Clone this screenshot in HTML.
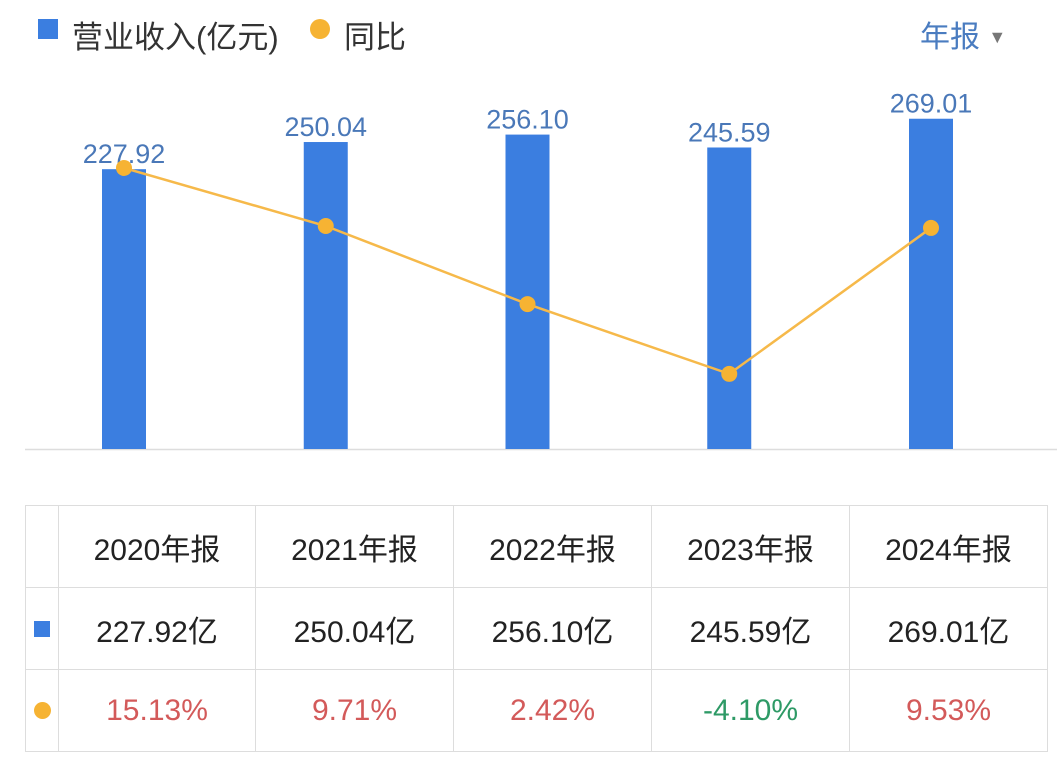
<!DOCTYPE html>
<html><head><meta charset="utf-8"><style>
body{margin:0;background:#fff;width:1057px;height:763px;overflow:hidden;font-family:"Liberation Sans","Noto Sans CJK SC",sans-serif;}
#wrap{position:relative;width:1057px;height:763px;}
.leg{position:absolute;top:12px;font-size:31px;color:#333;}
table{position:absolute;left:25px;top:505px;border-collapse:collapse;}
td{border:1px solid #ddd;text-align:center;font-size:30px;color:#222;padding:0;}
</style></head><body><div id="wrap">
<div>
<div style="position:absolute;left:38px;top:19px;width:20px;height:20px;background:#3b7ee0"></div>
<div class="leg" style="left:72px">营业收入(亿元)</div>
<div style="position:absolute;left:310px;top:19px;width:20px;height:20px;border-radius:50%;background:#f6b333"></div>
<div class="leg" style="left:344px">同比</div>
</div>
<div class="leg" style="left:920px;color:#4a7cc0;font-size:30px">年报 <span style="font-size:18px;color:#777;vertical-align:4px">▼</span></div>
<svg id="chart" width="1057" height="500" style="position:absolute;left:0;top:0"></svg>
<table>
<tr style="height:82px"><td style="width:32px"></td><td style="width:196px">2020年报</td><td style="width:197px">2021年报</td><td style="width:197px">2022年报</td><td style="width:197px">2023年报</td><td style="width:197px">2024年报</td></tr>
<tr style="height:82px"><td><div style="width:16px;height:16px;background:#3b7ee0;margin:auto"></div></td><td>227.92亿</td><td>250.04亿</td><td>256.10亿</td><td>245.59亿</td><td>269.01亿</td></tr>
<tr style="height:82px"><td><div style="width:17px;height:17px;border-radius:50%;background:#f6b333;margin:auto"></div></td><td style="color:#d35a5a">15.13%</td><td style="color:#d35a5a">9.71%</td><td style="color:#d35a5a">2.42%</td><td style="color:#2e9a66">-4.10%</td><td style="color:#d35a5a">9.53%</td></tr>
</table>
</div>
<script>
const categories=["2020","2021","2022","2023","2024"];
const revenue=[227.92,250.04,256.10,245.59,269.01];
const revenueLabels=["227.92","250.04","256.10","245.59","269.01"];
const yoy=[15.13,9.71,2.42,-4.10,9.53];
const NS="http://www.w3.org/2000/svg";
const svg=document.getElementById('chart');
const xC=i=>124+i*201.75;
const yBar=v=>449-v*1.2277;
const yLine=v=>330-v*10.71;
function mk(t,a){const e=document.createElementNS(NS,t);for(const k in a)e.setAttribute(k,a[k]);svg.appendChild(e);return e;}
const ax=mk('line',{x1:25,x2:1057,y1:449.5,y2:449.5,stroke:'#ddd','stroke-width':1.5});


revenue.forEach((v,i)=>{
 const r=mk('rect',{x:xC(i)-22,y:yBar(v),width:44,height:449-yBar(v),fill:'#3b7ee0'});
 
 
 const t=mk('text',{x:xC(i),y:yBar(v)-6,'text-anchor':'middle','font-size':27,fill:'#4a78b8','font-family':'Liberation Sans, sans-serif'});
 t.textContent=revenueLabels[i];
 
 
});
const pl=mk('polyline',{points:yoy.map((v,i)=>xC(i)+','+yLine(v)).join(' '),fill:'none',stroke:'#f6b94a','stroke-width':2.5});


yoy.forEach((v,i)=>{
 const c=mk('circle',{cx:xC(i),cy:yLine(v),r:8,fill:'#f6b333'});
 
 
});
</script></body></html>
